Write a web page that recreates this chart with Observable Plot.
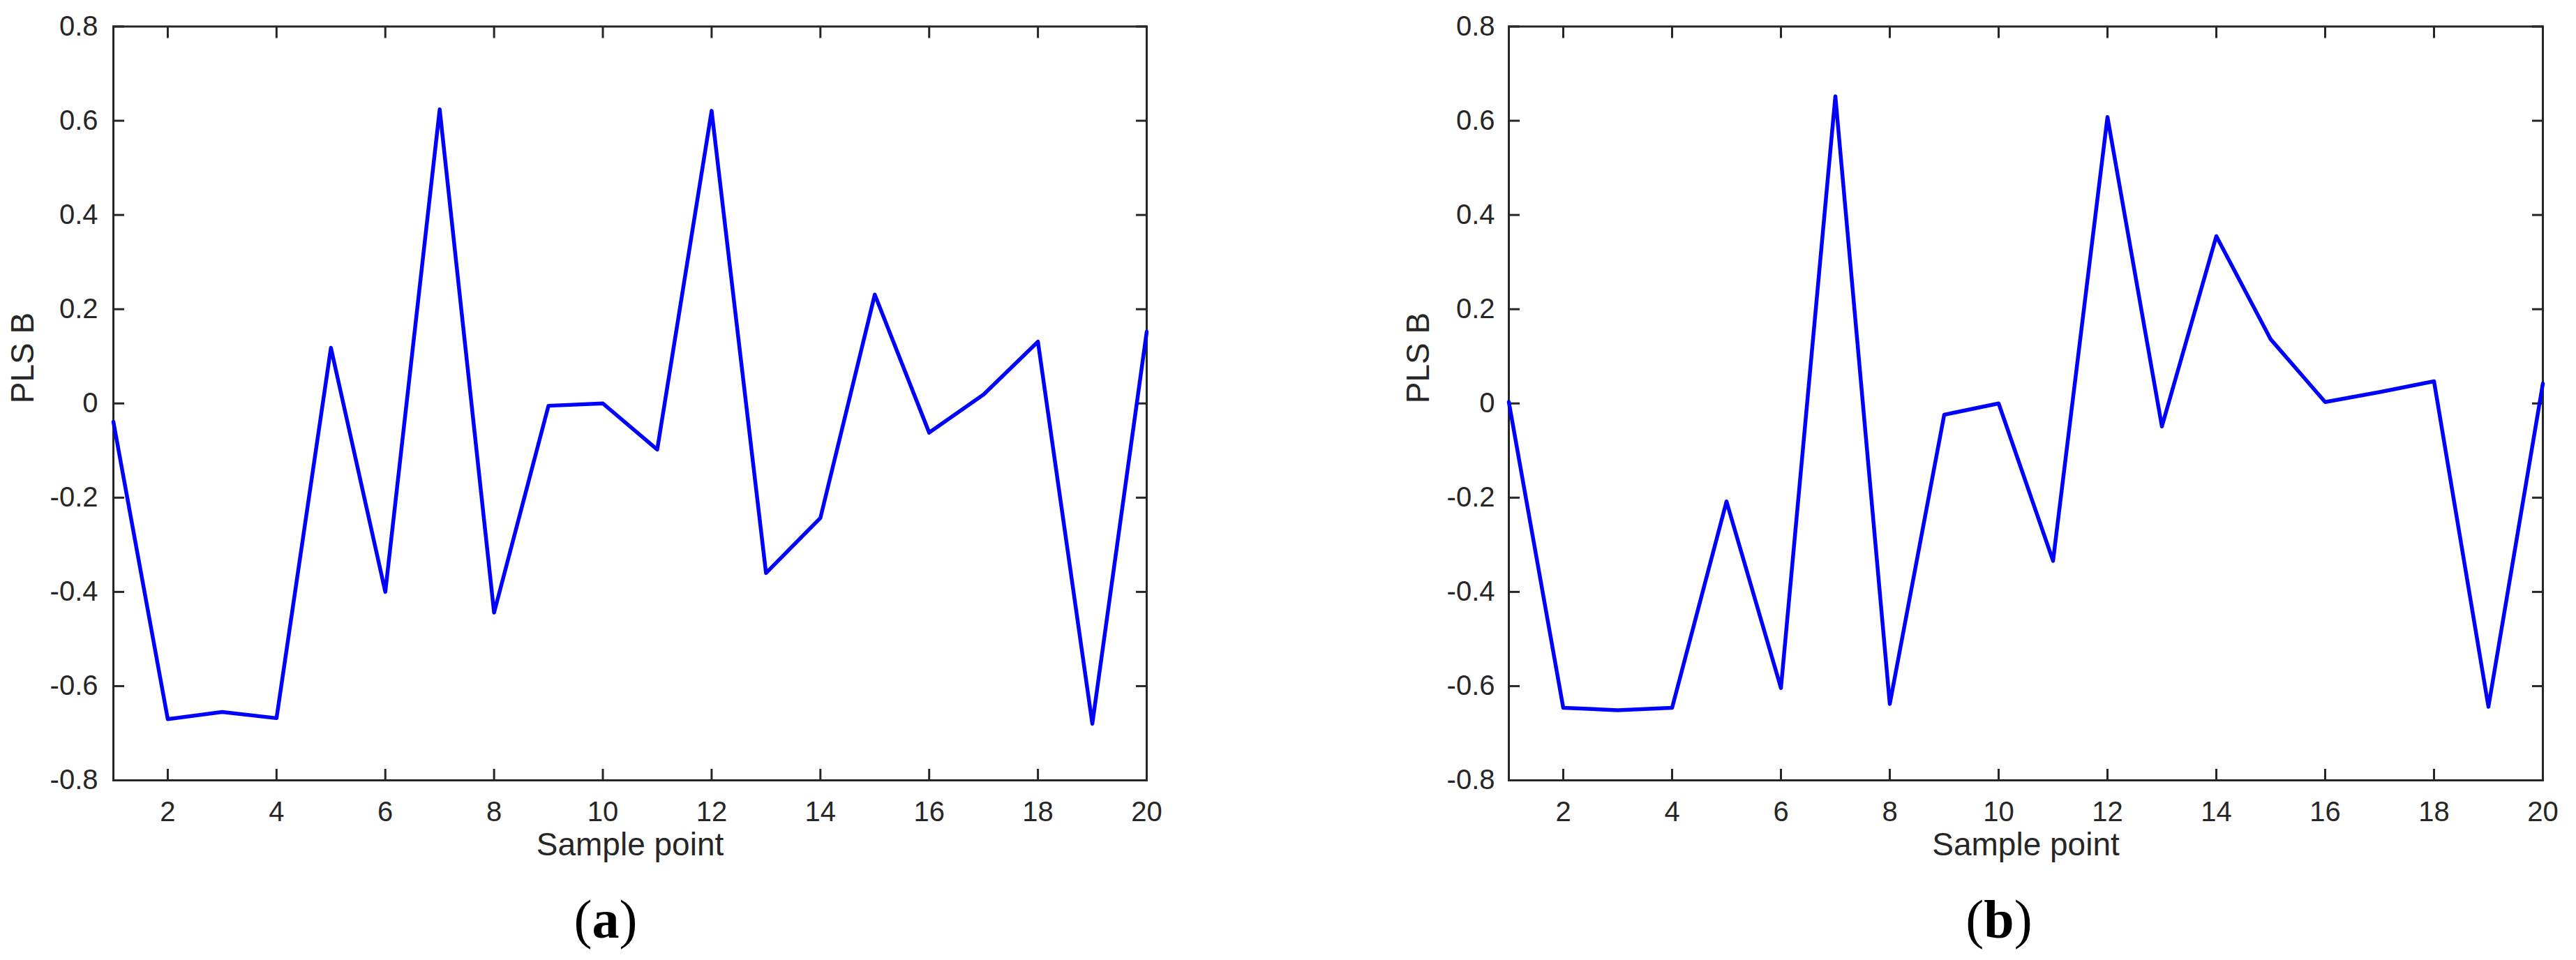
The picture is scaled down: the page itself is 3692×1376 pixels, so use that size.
<!DOCTYPE html>
<html>
<head>
<meta charset="utf-8">
<script src="https://cdn.jsdelivr.net/npm/d3@7"></script>
<script src="https://cdn.jsdelivr.net/npm/@observablehq/plot@0.6"></script>
<style>
html, body { margin: 0; padding: 0; background: #fff; }
#fig { position: relative; width: 3692px; height: 1376px; overflow: hidden; background: #fff; }
.panel { position: absolute; top: 0; }
.cap { position: absolute; top: 1279px; font-family: "Liberation Serif", "Times New Roman", serif; font-size: 78px; line-height: 78px; color: #000; transform: translateX(-50%); white-space: nowrap; }
.cap b { font-weight: bold; }
</style>
</head>
<body>
<div id="fig"></div>
<script>
// ---- data ----
const samplePoints = [1, 2, 3, 4, 5, 6, 7, 8, 9, 10, 11, 12, 13, 14, 15, 16, 17, 18, 19, 20];
const plsA = [-0.039, -0.670, -0.655, -0.668, 0.118, -0.400, 0.624, -0.444, -0.005, 0.000,
              -0.098, 0.621, -0.360, -0.243, 0.231, -0.062, 0.019, 0.131, -0.680, 0.152];
const plsB = [0.003, -0.646, -0.651, -0.646, -0.208, -0.604, 0.652, -0.638, -0.024, 0.000,
              -0.334, 0.608, -0.049, 0.355, 0.136, 0.003, 0.024, 0.047, -0.644, 0.042];
const xTicks = [2, 4, 6, 8, 10, 12, 14, 16, 18, 20];
const yTicks = [-0.8, -0.6, -0.4, -0.2, 0, 0.2, 0.4, 0.6, 0.8];
const xLabel = "Sample point";
const yLabel = "PLS B";
const captions = ["a", "b"];

// ---- drawing ----
const INK = "#262626";
const fmtY = d => Math.abs(d) < 1e-9 ? "0" : d.toFixed(1);

function panel(values, ml, mr, yPad) {
  const data = samplePoints.map((x, i) => ({x, y: values[i]}));
  return Plot.plot({
    width: 1846,
    height: 1290,
    marginLeft: ml,
    marginRight: mr,
    marginTop: 37.5,
    marginBottom: 172,
    x: {domain: [1, 20]},
    y: {domain: [-0.8, 0.8]},
    style: {fontFamily: '"Liberation Sans", Arial, sans-serif', fontSize: "40px", color: INK, background: "transparent", overflow: "visible"},
    marks: [
      Plot.axisX({anchor: "bottom", ticks: xTicks, tickFormat: d => String(d), tickSize: -16, tickPadding: 46, strokeWidth: 3, label: null}),
      Plot.axisX({anchor: "top", ticks: xTicks, tickFormat: () => "", tickSize: -16, strokeWidth: 3, label: null}),
      Plot.axisY({anchor: "left", ticks: yTicks, tickFormat: fmtY, tickSize: -16, tickPadding: yPad, strokeWidth: 3, label: null}),
      Plot.axisY({anchor: "right", ticks: yTicks, tickFormat: () => "", tickSize: -16, strokeWidth: 3, label: null}),
      Plot.frame({stroke: INK, strokeWidth: 3}),
      Plot.text([xLabel], {text: d => d, frameAnchor: "bottom", dy: 107, fontSize: 46, fill: INK}),
      Plot.text([yLabel], {text: d => d, frameAnchor: "left", rotate: -90, dx: -129, fontSize: 46, fill: INK}),
      Plot.line(data, {x: "x", y: "y", stroke: "#0000ff", strokeWidth: 5.5})
    ]
  });
}

const fig = document.getElementById("fig");
const specs = [
  {values: plsA, left: 0, ml: 162, mr: 203, pad: 38, capX: 868},
  {values: plsB, left: 1846, ml: 316, mr: 48, pad: 36, capX: 2865}
];
specs.forEach((s, i) => {
  const div = document.createElement("div");
  div.className = "panel";
  div.style.left = s.left + "px";
  div.appendChild(panel(s.values, s.ml, s.mr, s.pad));
  fig.appendChild(div);
  const cap = document.createElement("div");
  cap.className = "cap";
  cap.style.left = s.capX + "px";
  cap.innerHTML = "(<b>" + captions[i] + "</b>)";
  fig.appendChild(cap);
});
</script>
</body>
</html>
